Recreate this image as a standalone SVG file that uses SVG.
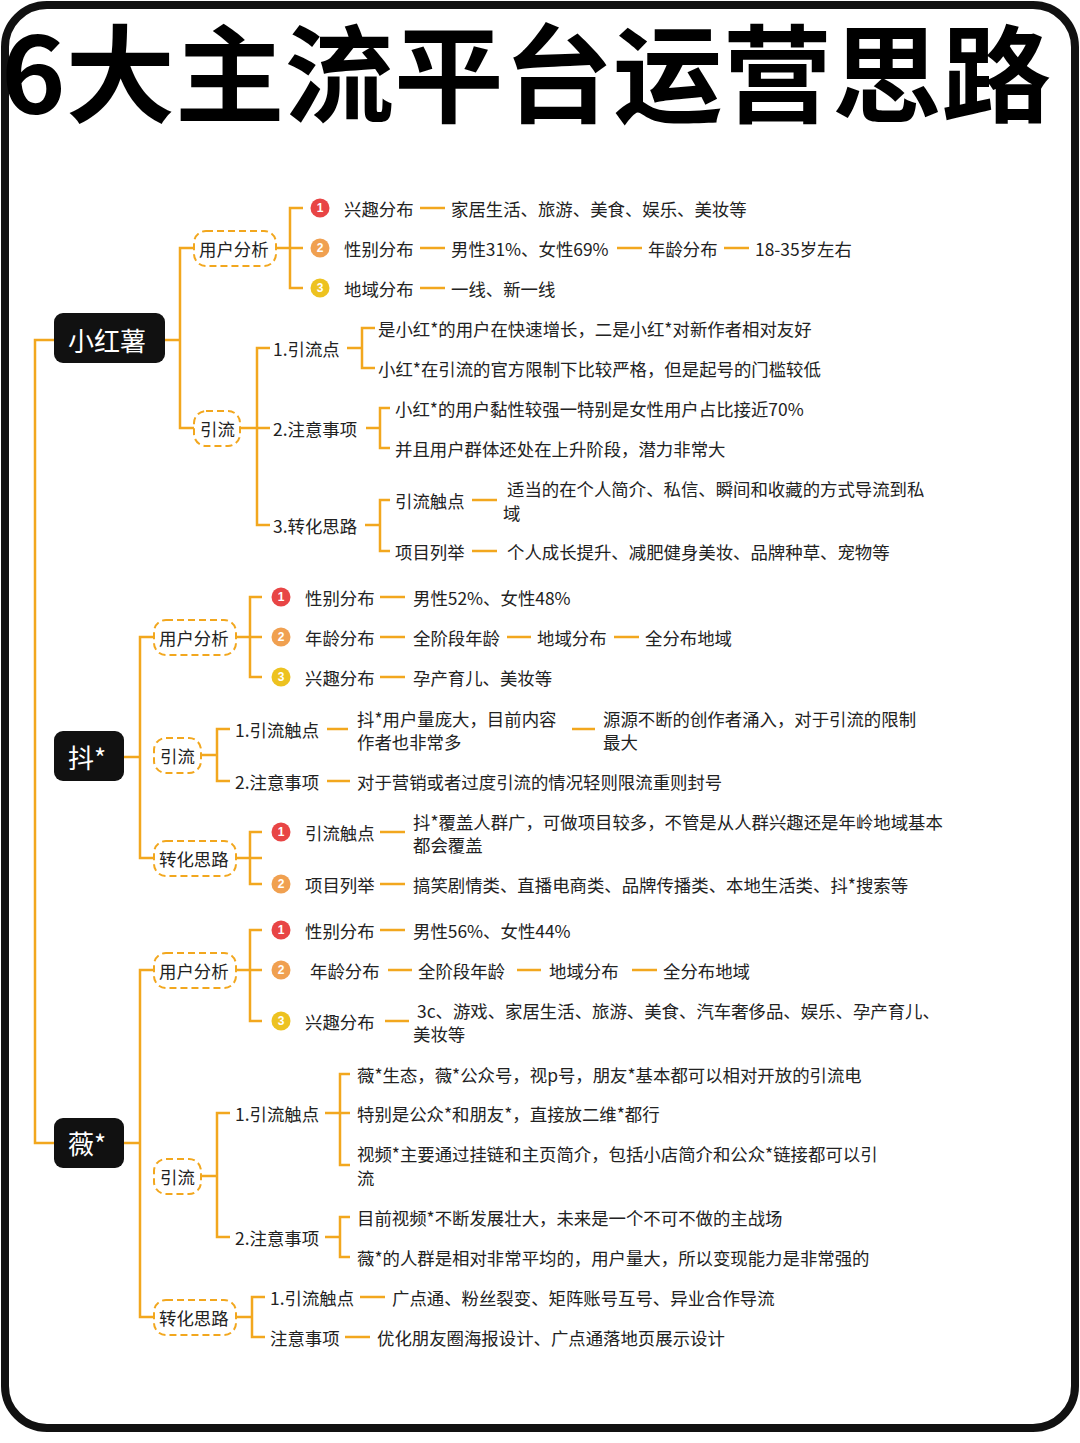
<svg xmlns="http://www.w3.org/2000/svg" width="1080" height="1443" viewBox="0 0 1080 1443">
<style>
text{font-family:"Noto Sans CJK SC","Noto Sans",sans-serif;fill:#222;font-size:17.4px;dominant-baseline:central}
.c path,.c line{stroke:#F2A71E;stroke-width:2.5;fill:none}
.dash{fill:#fff;stroke:#F2A71E;stroke-width:2;stroke-dasharray:7 4}
.root{fill:#111}
.rt{fill:#fff;font-size:26px}
.n{font-size:12px;font-weight:bold;fill:#fff;text-anchor:middle;font-family:"Liberation Sans",sans-serif}
</style>
<rect x="0" y="0" width="1080" height="1443" fill="#fff"/>
<rect x="5" y="5" width="1070" height="1423" rx="42" fill="none" stroke="#111" stroke-width="8"/>
<text x="1" y="68" style="font-size:106px;font-weight:bold;fill:#000" textLength="1050" lengthAdjust="spacingAndGlyphs">6大主流平台运营思路</text>
<g class="c" id="connectors">
<path d="M54 340H35V1143H54"/>
<path d="M165 340H180M194 248H180V428H194"/>
<path d="M276 248H303M303 208H290V288H303"/>
<line x1="420" y1="208" x2="445" y2="208"/><line x1="420" y1="248" x2="445" y2="248"/><line x1="617" y1="248" x2="642" y2="248"/><line x1="724" y1="248" x2="749" y2="248"/><line x1="420" y1="288" x2="445" y2="288"/>
<path d="M240 428H270M270 348H257V525H270"/>
<path d="M347 348H362M375 328H362V368H375"/>
<path d="M366 428H380M390 408H380V448H390"/>
<path d="M365 525H380M390 500H380V551H390"/>
<line x1="472" y1="500" x2="497" y2="500"/><line x1="472" y1="551" x2="497" y2="551"/>
<path d="M124 757H140M154 637H140V858H154"/>
<path d="M236 637H262M262 597H250V677H262"/>
<line x1="380" y1="597" x2="405" y2="597"/><line x1="380" y1="637" x2="405" y2="637"/><line x1="507" y1="637" x2="531" y2="637"/><line x1="614" y1="637" x2="639" y2="637"/><line x1="380" y1="677" x2="405" y2="677"/>
<path d="M201 755H217M230 729H217V781H230"/>
<line x1="327" y1="729" x2="348" y2="729"/><line x1="572" y1="729" x2="595" y2="729"/><line x1="327" y1="781" x2="350" y2="781"/>
<path d="M236 858H262M262 832H250V884H262"/>
<line x1="380" y1="832" x2="405" y2="832"/><line x1="380" y1="884" x2="405" y2="884"/>
<path d="M124 1143H140M154 970H140V1317H154"/>
<path d="M236 970H262M262 930H250V1021H262"/>
<line x1="380" y1="930" x2="405" y2="930"/><line x1="388" y1="970" x2="412" y2="970"/><line x1="517" y1="970" x2="541" y2="970"/><line x1="632" y1="970" x2="657" y2="970"/><line x1="385" y1="1021" x2="409" y2="1021"/>
<path d="M201 1176H217M230 1113H217V1237H230"/>
<path d="M325 1113H340M350 1074H340V1165H350M340 1113H350"/>
<path d="M325 1237H340M350 1217H340V1257H350"/>
<path d="M236 1317H252M265 1297H252V1337H265"/>
<line x1="360" y1="1297" x2="385" y2="1297"/><line x1="345" y1="1337" x2="370" y2="1337"/>
</g>
<g id="xhs"><rect class="root" x="54" y="313" width="111" height="50" rx="9"/><text class="rt" x="68" y="339">小红薯</text></g>
<g id="xhs-user"><rect class="dash" x="194" y="231" width="82" height="35" rx="12"/><text x="199" y="248">用户分析</text>
<circle cx="320" cy="208" r="9.5" fill="#E84545"/><text class="n" x="320" y="208">1</text><text x="344" y="208">兴趣分布</text><text x="451" y="208">家居生活、旅游、美食、娱乐、美妆等</text>
<circle cx="320" cy="248" r="9.5" fill="#F0A050"/><text class="n" x="320" y="248">2</text><text x="344" y="248">性别分布</text><text x="451" y="248">男性31%、女性69%</text><text x="648" y="248">年龄分布</text><text x="755" y="248">18-35岁左右</text>
<circle cx="320" cy="288" r="9.5" fill="#EDC220"/><text class="n" x="320" y="288">3</text><text x="344" y="288">地域分布</text><text x="451" y="288">一线、新一线</text></g>
<g id="xhs-yl"><rect class="dash" x="194" y="411" width="46" height="35" rx="12"/><text x="200" y="428">引流</text>
<text x="273" y="348">1.引流点</text><text x="378" y="328">是小红*的用户在快速增长，二是小红*对新作者相对友好</text><text x="378" y="368">小红*在引流的官方限制下比较严格，但是起号的门槛较低</text>
<text x="273" y="428">2.注意事项</text><text x="395" y="408">小红*的用户黏性较强一特别是女性用户占比接近70%</text><text x="395" y="448">并且用户群体还处在上升阶段，潜力非常大</text>
<text x="273" y="525">3.转化思路</text><text x="395" y="500">引流触点</text><text x="507" y="488">适当的在个人简介、私信、瞬间和收藏的方式导流到私</text><text x="503" y="512">域</text>
<text x="395" y="551">项目列举</text><text x="507" y="551">个人成长提升、减肥健身美妆、品牌种草、宠物等</text></g>
<g id="dy"><rect class="root" x="54" y="731" width="70" height="50" rx="9"/><text class="rt" x="68" y="756">抖*</text></g>
<g id="dy-user"><rect class="dash" x="154" y="620" width="82" height="35" rx="12"/><text x="159" y="637">用户分析</text>
<circle cx="281" cy="597" r="9.5" fill="#E84545"/><text class="n" x="281" y="597">1</text><text x="305" y="597">性别分布</text><text x="413" y="597">男性52%、女性48%</text>
<circle cx="281" cy="637" r="9.5" fill="#F0A050"/><text class="n" x="281" y="637">2</text><text x="305" y="637">年龄分布</text><text x="413" y="637">全阶段年龄</text><text x="537" y="637">地域分布</text><text x="645" y="637">全分布地域</text>
<circle cx="281" cy="677" r="9.5" fill="#EDC220"/><text class="n" x="281" y="677">3</text><text x="305" y="677">兴趣分布</text><text x="413" y="677">孕产育儿、美妆等</text></g>
<g id="dy-yl"><rect class="dash" x="154" y="738" width="47" height="35" rx="12"/><text x="160" y="755">引流</text>
<text x="235" y="729">1.引流触点</text><text x="357" y="718">抖*用户量庞大，目前内容</text><text x="357" y="741">作者也非常多</text><text x="603" y="718">源源不断的创作者涌入，对于引流的限制</text><text x="603" y="741">最大</text>
<text x="235" y="781">2.注意事项</text><text x="357" y="781">对于营销或者过度引流的情况轻则限流重则封号</text></g>
<g id="dy-zh"><rect class="dash" x="154" y="841" width="82" height="35" rx="12"/><text x="159" y="858">转化思路</text>
<circle cx="281" cy="832" r="9.5" fill="#E84545"/><text class="n" x="281" y="832">1</text><text x="305" y="832">引流触点</text><text x="413" y="821">抖*覆盖人群广，可做项目较多，不管是从人群兴趣还是年岭地域基本</text><text x="413" y="844">都会覆盖</text>
<circle cx="281" cy="884" r="9.5" fill="#F0A050"/><text class="n" x="281" y="884">2</text><text x="305" y="884">项目列举</text><text x="413" y="884">搞笑剧情类、直播电商类、品牌传播类、本地生活类、抖*搜索等</text></g>
<g id="wx"><rect class="root" x="54" y="1118" width="70" height="50" rx="9"/><text class="rt" x="68" y="1142">薇*</text></g>
<g id="wx-user"><rect class="dash" x="154" y="953" width="82" height="35" rx="12"/><text x="159" y="970">用户分析</text>
<circle cx="281" cy="930" r="9.5" fill="#E84545"/><text class="n" x="281" y="930">1</text><text x="305" y="930">性别分布</text><text x="413" y="930">男性56%、女性44%</text>
<circle cx="281" cy="970" r="9.5" fill="#F0A050"/><text class="n" x="281" y="970">2</text><text x="310" y="970">年龄分布</text><text x="418" y="970">全阶段年龄</text><text x="549" y="970">地域分布</text><text x="663" y="970">全分布地域</text>
<circle cx="281" cy="1021" r="9.5" fill="#EDC220"/><text class="n" x="281" y="1021">3</text><text x="305" y="1021">兴趣分布</text><text x="417" y="1010">3c、游戏、家居生活、旅游、美食、汽车奢侈品、娱乐、孕产育儿、</text><text x="413" y="1033">美妆等</text></g>
<g id="wx-yl"><rect class="dash" x="154" y="1159" width="47" height="35" rx="12"/><text x="160" y="1176">引流</text>
<text x="235" y="1113">1.引流触点</text><text x="357" y="1074">薇*生态，薇*公众号，视p号，朋友*基本都可以相对开放的引流电</text><text x="357" y="1113">特别是公众*和朋友*，直接放二维*都行</text><text x="357" y="1153">视频*主要通过挂链和主页简介，包括小店简介和公众*链接都可以引</text><text x="357" y="1177">流</text>
<text x="235" y="1237">2.注意事项</text><text x="357" y="1217">目前视频*不断发展壮大，未来是一个不可不做的主战场</text><text x="357" y="1257">薇*的人群是相对非常平均的，用户量大，所以变现能力是非常强的</text></g>
<g id="wx-zh"><rect class="dash" x="154" y="1300" width="82" height="35" rx="12"/><text x="159" y="1317">转化思路</text>
<text x="270" y="1297">1.引流触点</text><text x="392" y="1297">广点通、粉丝裂变、矩阵账号互号、异业合作导流</text>
<text x="270" y="1337">注意事项</text><text x="377" y="1337">优化朋友圈海报设计、广点通落地页展示设计</text></g>
</svg>
